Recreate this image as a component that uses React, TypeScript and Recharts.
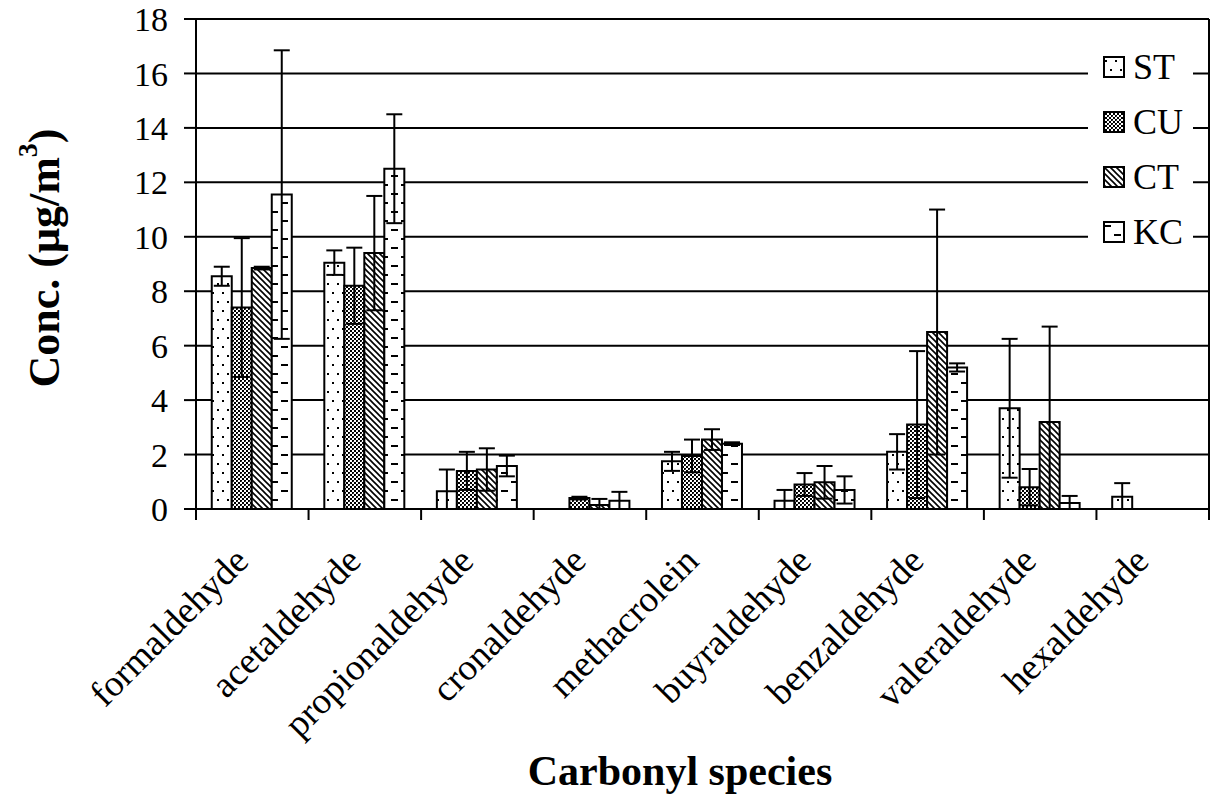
import React from "react"
import { Bar, BarChart, CartesianGrid, ErrorBar, Label, Legend, XAxis, YAxis } from "recharts"

const species = [
  "formaldehyde",
  "acetaldehyde",
  "propionaldehyde",
  "cronaldehyde",
  "methacrolein",
  "buyraldehyde",
  "benzaldehyde",
  "valeraldehyde",
  "hexaldehyde",
]

const st = [8.55, 9.05, 0.65, 0, 1.75, 0.3, 2.1, 3.7, 0.45]
const stErr = [0.35, 0.45, 0.8, 0, 0.35, 0.4, 0.65, 2.55, 0.5]
const cu = [7.4, 8.2, 1.4, 0.4, 1.95, 0.9, 3.1, 0.8, 0]
const cuErr = [2.55, 1.4, 0.7, 0.05, 0.6, 0.42, 2.7, 0.67, 0]
const ct = [8.85, 9.4, 1.45, 0.15, 2.55, 0.98, 6.5, 3.2, 0]
const ctErr = [0.05, 2.1, 0.78, 0.22, 0.38, 0.6, 4.5, 3.5, 0]
const kc = [11.55, 12.5, 1.58, 0.3, 2.4, 0.7, 5.2, 0.22, 0]
const kcErr = [5.3, 2.0, 0.38, 0.33, 0.05, 0.5, 0.15, 0.26, 0]

const yTicks = [0, 2, 4, 6, 8, 10, 12, 14, 16, 18]

const seriesKeys = ["ST", "CU", "CT", "KC"]

// error bars stop at the axis, like the original
const clip = (v: number, e: number) => [Math.min(v, e), e]

const data = species.map((name, i) => ({
  name,
  ST: st[i],
  STerr: clip(st[i], stErr[i]),
  CU: cu[i],
  CUerr: clip(cu[i], cuErr[i]),
  CT: ct[i],
  CTerr: clip(ct[i], ctErr[i]),
  KC: kc[i],
  KCerr: clip(kc[i], kcErr[i]),
}))

const W = 1212
const H = 794
const LEFT = 196
const RIGHT_PAD = 3
const BAND = (W - LEFT - RIGHT_PAD) / species.length
const FONT = "'Liberation Serif', 'Times New Roman', serif"

function Patterns() {
  return (
    <svg width={0} height={0} style={{ position: "absolute" }}>
      <defs>
        <pattern id="pST" width={10} height={18} patternUnits="userSpaceOnUse">
          <rect width={10} height={18} fill="#fff" />
          <rect x={2} y={4} width={2} height={2} fill="#000" />
          <rect x={7} y={13} width={2} height={2} fill="#000" />
        </pattern>
        <pattern id="pCU" width={4} height={4} patternUnits="userSpaceOnUse">
          <rect width={4} height={4} fill="#fff" />
          <rect x={0} y={0} width={2} height={2} fill="#000" />
          <rect x={2} y={2} width={2} height={2} fill="#000" />
          <rect x={1} y={1} width={1} height={1} fill="#444" />
        </pattern>
        <pattern id="pCT" width={6} height={6} patternUnits="userSpaceOnUse">
          <rect width={6} height={6} fill="#fff" />
          <path d="M-1,-1 L7,7 M-1,5 L1,7 M5,-1 L7,1" stroke="#000" strokeWidth={1.6} />
        </pattern>
        <pattern id="pKC" width={20} height={18} patternUnits="userSpaceOnUse">
          <rect width={20} height={18} fill="#fff" />
          <rect x={1} y={4} width={7} height={2} fill="#000" />
          <rect x={11} y={13} width={7} height={2} fill="#000" />
        </pattern>
      </defs>
    </svg>
  )
}

function CategoryTick(props: any) {
  const { x, y, payload, index } = props
  const last = index === species.length - 1
  const tx = x - 2
  const ty = y + 54
  return (
    <g>
      <line x1={x - BAND / 2} y1={y} x2={x - BAND / 2} y2={y + 11} stroke="#000" strokeWidth={2} />
      {last && <line x1={x + BAND / 2} y1={y} x2={x + BAND / 2} y2={y + 11} stroke="#000" strokeWidth={2} />}
      <text
        x={tx}
        y={ty}
        textAnchor="end"
        transform={`rotate(-45 ${tx} ${ty})`}
        fontFamily={FONT}
        fontSize={37}
        fill="#000"
      >
        {payload.value}
      </text>
    </g>
  )
}

function YTitle() {
  const cx = 59
  const cy = 258
  return (
    <text
      x={cx}
      y={cy}
      textAnchor="middle"
      transform={`rotate(-90 ${cx} ${cy})`}
      fontFamily={FONT}
      fontWeight="bold"
      fontSize={44}
      fill="#000"
    >
      Conc. (μg/m
      <tspan dy={-22} fontSize={28}>3</tspan>
      <tspan dy={22}>)</tspan>
    </text>
  )
}

function XTitle() {
  return (
    <text x={680} y={785} textAnchor="middle" fontFamily={FONT} fontWeight="bold" fontSize={42} fill="#000">
      Carbonyl species
    </text>
  )
}

function LegendBox() {
  return (
    <div style={{ background: "#fff", width: 105, height: 220 }}>
      {seriesKeys.map((k, i) => (
        <div
          key={k}
          style={{
            position: "absolute",
            left: 15,
            top: 12 + i * 55,
            display: "flex",
            alignItems: "center",
            fontFamily: FONT,
            fontSize: 36,
            lineHeight: "40px",
            color: "#000",
          }}
        >
          <svg width={22} height={22} style={{ marginRight: 8 }}>
            <rect x={1} y={1} width={20} height={20} fill={`url(#p${k})`} stroke="#000" strokeWidth={2} />
          </svg>
          {k}
        </div>
      ))}
    </div>
  )
}

export default function App() {
  return (
    <div style={{ position: "absolute", left: 0, top: 0, width: W, height: H, background: "#fff" }}>
      <Patterns />
      <BarChart
        width={W}
        height={H}
        data={data}
        margin={{ top: 19, right: 0, bottom: 0, left: 0 }}
        barCategoryGap="14%"
        barGap={0}
      >
        <CartesianGrid vertical={false} stroke="#000" strokeWidth={2} />
        <XAxis
          dataKey="name"
          interval={0}
          height={H - 509}
          tickLine={false}
          tickSize={0}
          tickMargin={0}
          axisLine={{ stroke: "#000", strokeWidth: 2 }}
          tick={<CategoryTick />}
        >
          <Label content={<XTitle />} />
        </XAxis>
        <YAxis
          width={LEFT}
          domain={[0, 18]}
          ticks={yTicks}
          interval={0}
          tickSize={12}
          tickMargin={16}
          tickLine={{ stroke: "#000", strokeWidth: 2 }}
          axisLine={{ stroke: "#000", strokeWidth: 2 }}
          tick={{ fontFamily: FONT, fontSize: 34, fill: "#000" }}
        >
          <Label content={<YTitle />} />
        </YAxis>
        <YAxis
          yAxisId="right"
          orientation="right"
          width={RIGHT_PAD}
          tick={false}
          tickLine={false}
          axisLine={{ stroke: "#000", strokeWidth: 2 }}
        />
        <Legend
          layout="vertical"
          align="center"
          verticalAlign="middle"
          content={<LegendBox />}
          wrapperStyle={{ position: "absolute", left: 1088, top: 35, width: 105, height: 220 }}
        />
        {seriesKeys.map((k) => (
          <Bar key={k} dataKey={k} fill={`url(#p${k})`} stroke="#000" strokeWidth={2} isAnimationActive={false}>
            <ErrorBar dataKey={`${k}err`} direction="y" width={8} stroke="#000" strokeWidth={2} />
          </Bar>
        ))}
      </BarChart>
    </div>
  )
}
